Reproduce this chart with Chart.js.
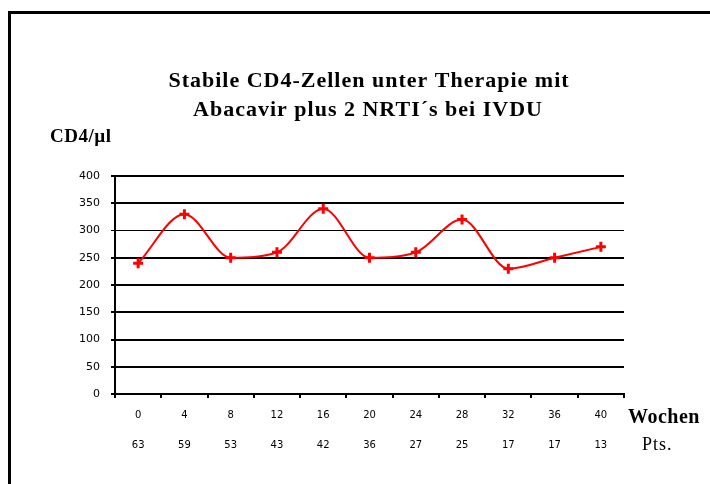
<!DOCTYPE html>
<html><head><meta charset="utf-8">
<script src="https://cdn.jsdelivr.net/npm/chart.js@4/dist/chart.umd.min.js"></script>
<style>html,body{margin:0;padding:0;background:#fff}#wrap{width:710px;height:484px}</style>
</head><body><div id="wrap"><canvas id="c" width="710" height="484"></canvas></div>
<script>
const weeks = ["0","4","8","12","16","20","24","28","32","36","40"];
const patients = ["63","59","53","43","42","36","27","25","17","17","13"];
const cd4 = [240,330,250,260,340,250,260,320,230,250,270];
const yMin = 0, yMax = 400, yStep = 50;
const titleLines = ["Stabile CD4-Zellen unter Therapie mit", "Abacavir plus 2 NRTI\u00b4s bei IVDU"];
const yAxisLabel = "CD4/\u00b5l";
const xAxisLabel = "Wochen";
const xAxisLabel2 = "Pts.";

const labels = weeks.map((w, i) => [w, patients[i]]);

const textPlugin = {
  id: 'texts',
  afterDraw(chart) {
    const ctx = chart.ctx;
    const a = chart.chartArea;
    ctx.save();
    ctx.fillStyle = '#000';
    ctx.textBaseline = 'middle';
    ctx.textAlign = 'center';
    ctx.font = 'bold 22px "Liberation Serif"';
    ctx.letterSpacing = '1px';
    ctx.fillText(titleLines[0], 369, 81);
    ctx.fillText(titleLines[1], 368, 110);
    ctx.textAlign = 'left';
    ctx.font = 'bold 19px "Liberation Serif"';
    ctx.letterSpacing = '0.5px';
    ctx.fillText(yAxisLabel, 50, 137);
    ctx.font = 'bold 20px "Liberation Serif"';
    ctx.letterSpacing = '0.5px';
    ctx.fillText(xAxisLabel, a.right + 4, 418);
    ctx.font = '18px "Liberation Serif"';
    ctx.letterSpacing = '1px';
    ctx.fillText(xAxisLabel2, a.right + 18, 445);
    ctx.letterSpacing = '0px';
    // frame
    ctx.strokeStyle = '#000';
    ctx.lineWidth = 3;
    ctx.beginPath();
    ctx.moveTo(8, 12.5); ctx.lineTo(710, 12.5);
    ctx.moveTo(9.5, 11); ctx.lineTo(9.5, 484);
    ctx.stroke();
    ctx.restore();
  }
};

new Chart(document.getElementById('c'), {
  type: 'line',
  data: {
    labels: labels,
    datasets: [{
      data: cd4,
      borderColor: '#ff0000',
      backgroundColor: '#ff0000',
      borderWidth: 2,
      cubicInterpolationMode: 'monotone',
      pointStyle: 'cross',
      pointRadius: 5,
      pointBorderWidth: 3,
      pointBorderColor: '#ff0000',
      fill: false
    }]
  },
  options: {
    responsive: false,
    animation: false,
    devicePixelRatio: 1,
    layout: { padding: { top: 176, left: 0, right: 86, bottom: 0 } },
    plugins: { legend: { display: false }, title: { display: false }, tooltip: { enabled: false } },
    scales: {
      x: {
        type: 'category',
        offset: true,
        afterFit(s) { s.height = 90; },
        border: { display: true, color: '#000', width: 2 },
        grid: {
          offset: true,
          drawOnChartArea: true,
          color: (c) => c.index === weeks.length ? '#000' : 'rgba(0,0,0,0)',
          lineWidth: 2,
          tickLength: 4,
          tickColor: '#000'
        },
        ticks: {
          color: '#000',
          font: { family: '"DejaVu Sans"', size: 10, lineHeight: 3 },
          padding: 2,
          maxRotation: 0,
          autoSkip: false
        }
      },
      y: {
        min: yMin,
        max: yMax,
        afterFit(s) { s.width = 115; },
        border: { display: true, color: '#000', width: 2 },
        grid: {
          color: '#000',
          lineWidth: (c) => (c.tick && c.tick.value === 300) ? 1 : 2,
          tickLength: 4,
          tickColor: '#000'
        },
        ticks: {
          stepSize: yStep,
          color: '#000',
          font: { family: '"DejaVu Sans"', size: 11 },
          padding: 11
        }
      }
    }
  },
  plugins: [textPlugin]
});
</script>
</body></html>
